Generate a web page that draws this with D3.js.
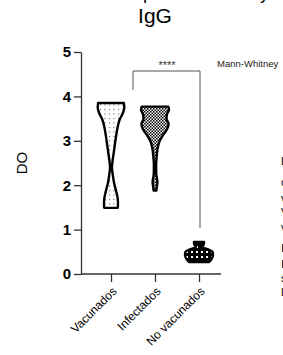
<!DOCTYPE html>
<html>
<head>
<meta charset="utf-8">
<script src="https://cdn.jsdelivr.net/npm/d3@7"></script>
<style>
  html, body { margin: 0; padding: 0; background: #fff; overflow: hidden; }
  svg { display: block; font-family: "Liberation Sans", Arial, sans-serif; }
</style>
</head>
<body>
<svg id="chart" width="283" height="355"></svg>
<script>
const categories = ["Vacunados", "Infectados", "No vacunados"];
const yTicks = [0, 1, 2, 3, 4, 5];

// violin profiles: [DO value, relative density]
const vacunadosProfile = [
  [3.85, 0.92], [3.75, 0.95], [3.62, 0.84], [3.48, 0.62], [3.3, 0.47], [3.1, 0.36],
  [2.9, 0.27], [2.7, 0.18], [2.52, 0.1], [2.4, 0.07], [2.25, 0.12], [2.05, 0.22],
  [1.85, 0.38], [1.7, 0.48], [1.56, 0.5], [1.49, 0.48],
];
const infectadosProfile = [
  [3.77, 0.95], [3.7, 1.0], [3.6, 0.86], [3.5, 0.82], [3.38, 0.97], [3.25, 0.84],
  [3.12, 0.56], [3.0, 0.34], [2.85, 0.2], [2.65, 0.12], [2.45, 0.08], [2.25, 0.09],
  [2.08, 0.17], [1.96, 0.13], [1.88, 0.1],
];
const noVacunadosProfile = [
  [0.72, 0.36], [0.66, 0.33], [0.61, 0.22], [0.56, 0.6], [0.5, 0.97],
  [0.42, 1.0], [0.34, 0.9], [0.27, 0.72],
];
const profiles = [vacunadosProfile, infectadosProfile, noVacunadosProfile];

const sideNotes = ["Los", "cuales", "vacunados", "Vacunados", "vs", "Infectados", "IgG", "sin", "Los"];

const svg = d3.select("#chart");
const defs = svg.append("defs");

defs.append("pattern")
  .attr("id", "dots")
  .attr("width", 4.5).attr("height", 4.5)
  .attr("patternUnits", "userSpaceOnUse")
  .call((p) => {
    p.append("rect").attr("width", 4.5).attr("height", 4.5).attr("fill", "#fff");
    p.append("rect").attr("x", 1).attr("y", 1).attr("width", 1).attr("height", 1).attr("fill", "#333");
  });

defs.append("pattern")
  .attr("id", "checks")
  .attr("width", 3).attr("height", 3)
  .attr("patternUnits", "userSpaceOnUse")
  .call((p) => {
    p.append("rect").attr("width", 3).attr("height", 3).attr("fill", "#fff");
    p.append("rect").attr("width", 1.5).attr("height", 1.5).attr("fill", "#000");
    p.append("rect").attr("x", 1.5).attr("y", 1.5).attr("width", 1.5).attr("height", 1.5).attr("fill", "#000");
  });

defs.append("pattern")
  .attr("id", "dark")
  .attr("width", 5).attr("height", 5)
  .attr("patternUnits", "userSpaceOnUse")
  .call((p) => {
    p.append("rect").attr("width", 5).attr("height", 5).attr("fill", "#000");
    p.append("rect").attr("x", 1).attr("y", 1).attr("width", 2).attr("height", 2).attr("fill", "#fff");
  });

const fills = ["url(#dots)", "url(#checks)", "url(#dark)"];

const y = d3.scaleLinear().domain([0, 5]).range([274, 52]);
const x = d3.scalePoint().domain(categories).range([111, 199]);
const w = d3.scaleLinear().domain([0, 1]).range([0, 14]);

// clipped first title line
svg.append("text")
  .attr("x", 77).attr("y", -1)
  .attr("font-size", 18)
  .text("Anticuerpos en el ensayo");

svg.append("text")
  .attr("x", 155).attr("y", 23)
  .attr("text-anchor", "middle")
  .attr("font-size", 21)
  .text("IgG");

// y axis
const yAxis = svg.append("g")
  .attr("transform", "translate(81,0)")
  .call(d3.axisLeft(y).tickValues(yTicks).tickFormat(d3.format("d"))
    .tickSize(7).tickSizeOuter(0).tickPadding(3));
yAxis.select(".domain").attr("stroke", "#333").attr("stroke-width", 1.3);
yAxis.selectAll(".tick line").attr("stroke", "#333").attr("stroke-width", 1.3);
yAxis.selectAll(".tick text")
  .attr("font-size", 15).attr("font-weight", "bold")
  .attr("font-family", "Liberation Sans, Arial, sans-serif")
  .attr("fill", "#000");

// x axis
const xAxis = svg.append("g")
  .attr("transform", "translate(0,274)")
  .call(d3.axisBottom(x).tickSize(8).tickSizeOuter(0));
xAxis.select(".domain").attr("d", "M81,0H221").attr("stroke", "#333").attr("stroke-width", 1.3);
xAxis.selectAll(".tick line").attr("stroke", "#333").attr("stroke-width", 1.3);
xAxis.selectAll(".tick text")
  .attr("font-size", 12)
  .attr("font-family", "Liberation Sans, Arial, sans-serif")
  .attr("fill", "#000")
  .attr("text-anchor", "end")
  .attr("transform", "translate(3,15) rotate(-45)")
  .attr("dy", "0.35em")
  .attr("y", 0);

svg.append("text")
  .attr("transform", "translate(27,163) rotate(-90)")
  .attr("text-anchor", "middle")
  .attr("font-size", 15)
  .text("DO");

// violins
const violin = (cx) => d3.area()
  .y((d) => y(d[0]))
  .x0((d) => cx - w(d[1]))
  .x1((d) => cx + w(d[1]))
  .curve(d3.curveMonotoneY);

svg.append("g")
  .selectAll("path")
  .data(profiles)
  .join("path")
  .attr("d", (d, i) => violin(x(categories[i]))(d))
  .attr("fill", (d, i) => fills[i])
  .attr("stroke", "#000")
  .attr("stroke-width", 2.4)
  .attr("stroke-linejoin", "round");

// significance bracket
const bracketY = 71;
svg.append("path")
  .attr("d", `M133,${90}V${bracketY}H200V${228}`)
  .attr("fill", "none")
  .attr("stroke", "#555")
  .attr("stroke-width", 1);

svg.append("text")
  .attr("x", 167).attr("y", 69)
  .attr("text-anchor", "middle")
  .attr("font-size", 11)
  .attr("fill", "#333")
  .text("****");

svg.append("text")
  .attr("x", 217).attr("y", 67)
  .attr("font-size", 9.5)
  .attr("fill", "#222")
  .text("Mann-Whitney");

// clipped side notes
const noteY = [165, 186, 202, 216, 231, 252, 268, 282, 296];
svg.append("g")
  .selectAll("text")
  .data(sideNotes)
  .join("text")
  .attr("x", 281)
  .attr("y", (d, i) => noteY[i])
  .attr("font-size", 11)
  .text((d) => d);
</script>
</body>
</html>
